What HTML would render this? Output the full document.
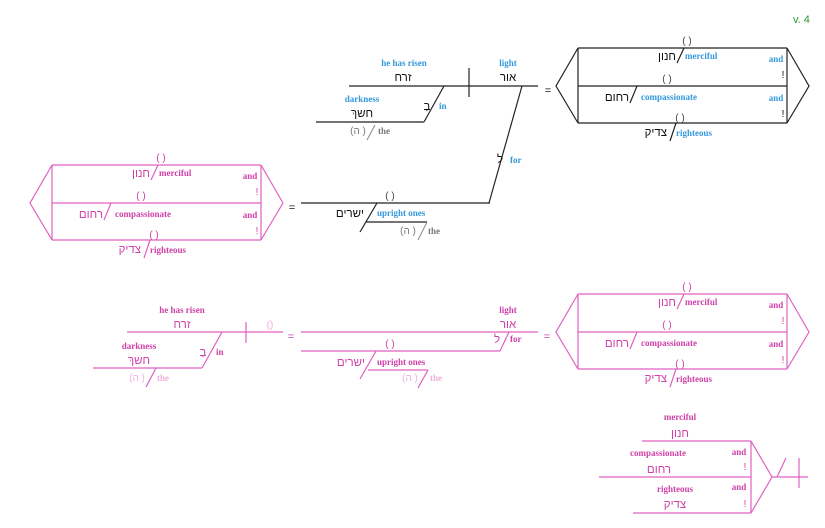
<!DOCTYPE html>
<html><head><meta charset="utf-8"><style>
html,body{margin:0;padding:0;background:#fff;}
svg{display:block;}
.l{font-family:"Liberation Serif",serif;font-weight:bold;font-size:9px;}
.h{font-family:"Liberation Sans","DejaVu Sans",sans-serif;font-size:11.5px;}
.s{font-family:"Liberation Sans","DejaVu Sans",sans-serif;font-size:11px;}
.p{font-family:"Liberation Sans","DejaVu Sans",sans-serif;font-size:10px;}
</style></head><body>
<svg width="825" height="528" viewBox="0 0 825 528" xmlns="http://www.w3.org/2000/svg">
<text x="793" y="23" class="s" fill="#2e9a2e">v. 4</text>

<!-- ===== Top black diagram ===== -->
<g stroke="#222" stroke-width="1.2" fill="none">
  <line x1="349" y1="86" x2="538" y2="86"/>
  <line x1="469" y1="68" x2="469" y2="97"/>
  <line x1="444" y1="86" x2="424" y2="122"/>
  <line x1="316" y1="122" x2="424" y2="122"/>
  <line x1="522" y1="86" x2="489" y2="203"/>
  <line x1="301" y1="203" x2="490" y2="203"/>
  <line x1="377" y1="203" x2="360" y2="232"/>
  <line x1="366" y1="222" x2="427" y2="222"/>
</g>
<g stroke="#888" stroke-width="1" fill="none">
  <line x1="375" y1="125" x2="367" y2="140"/>
  <line x1="427" y1="222" x2="418" y2="240"/>
</g>
<text x="404" y="66" class="l" fill="#3399dd" text-anchor="middle">he has risen</text>
<text x="403" y="81" class="h" fill="#111" text-anchor="middle">זרח</text>
<text x="508" y="66" class="l" fill="#3399dd" text-anchor="middle">light</text>
<text x="508" y="81" class="h" fill="#111" text-anchor="middle">אור</text>
<text x="362" y="102" class="l" fill="#3399dd" text-anchor="middle">darkness</text>
<text x="362" y="117" class="h" fill="#111" text-anchor="middle">חשךְ</text>
<text x="427" y="110" class="h" fill="#111" text-anchor="middle">בַ</text>
<text x="439" y="109" class="l" fill="#3399dd">in</text>
<text x="358" y="134" class="p" fill="#777" text-anchor="middle">(ה )</text>
<text x="378" y="134" class="l" fill="#777">the</text>
<text x="548" y="94" class="s" fill="#111" text-anchor="middle">=</text>
<text x="500" y="163" class="h" fill="#111" text-anchor="middle">ל</text>
<text x="510" y="163" class="l" fill="#3399dd">for</text>
<text x="390" y="199" class="p" fill="#444" text-anchor="middle">( )</text>
<text x="364" y="217" class="h" fill="#111" text-anchor="end">ישרים</text>
<text x="377" y="216" class="l" fill="#3399dd">upright ones</text>
<text x="408" y="234" class="p" fill="#777" text-anchor="middle">(ה )</text>
<text x="428" y="234" class="l" fill="#777">the</text>

<!-- black hexagon top-right -->
<g>
  <g stroke="#222" stroke-width="1.2" fill="none">
    <polyline points="578,48 556,86 578,123"/>
    <polyline points="787,48 809,86 787,123"/>
    <line x1="578" y1="48" x2="787" y2="48"/>
    <line x1="578" y1="86" x2="787" y2="86"/>
    <line x1="578" y1="123" x2="787" y2="123"/>
    <line x1="578" y1="48" x2="578" y2="123"/>
    <line x1="787" y1="48" x2="787" y2="123"/>
    <line x1="684" y1="48" x2="677" y2="63"/>
    <line x1="637" y1="86" x2="630" y2="103"/>
    <line x1="676" y1="123" x2="670" y2="141"/>
  </g>
  <text x="687" y="44" class="p" fill="#444" text-anchor="middle">( )</text>
  <text x="676" y="60" class="h" fill="#111" text-anchor="end">חנון</text>
  <text x="685" y="59" class="l" fill="#3399dd">merciful</text>
  <text x="776" y="62" class="l" fill="#3399dd" text-anchor="middle">and</text>
  <text x="783" y="78" class="p" fill="#111" text-anchor="middle">!</text>
  <text x="667" y="82" class="p" fill="#444" text-anchor="middle">( )</text>
  <text x="629" y="101" class="h" fill="#111" text-anchor="end">רחום</text>
  <text x="641" y="100" class="l" fill="#3399dd">compassionate</text>
  <text x="776" y="101" class="l" fill="#3399dd" text-anchor="middle">and</text>
  <text x="783" y="117" class="p" fill="#111" text-anchor="middle">!</text>
  <text x="680" y="121" class="p" fill="#444" text-anchor="middle">( )</text>
  <text x="667" y="136" class="h" fill="#111" text-anchor="end">צדיק</text>
  <text x="676" y="136" class="l" fill="#3399dd">righteous</text>
</g>

<!-- pink hexagon left middle -->
<g transform="translate(-526,117)">
  <g stroke="#e060c0" stroke-width="1.2" fill="none">
    <polyline points="578,48 556,86 578,123"/>
    <polyline points="787,48 809,86 787,123"/>
    <line x1="578" y1="48" x2="787" y2="48"/>
    <line x1="578" y1="86" x2="787" y2="86"/>
    <line x1="578" y1="123" x2="787" y2="123"/>
    <line x1="578" y1="48" x2="578" y2="123"/>
    <line x1="787" y1="48" x2="787" y2="123"/>
    <line x1="684" y1="48" x2="677" y2="63"/>
    <line x1="637" y1="86" x2="630" y2="103"/>
    <line x1="676" y1="123" x2="670" y2="141"/>
  </g>
  <text x="687" y="44" class="p" fill="#d040a8" text-anchor="middle">( )</text>
  <text x="676" y="60" class="h" fill="#d040a8" text-anchor="end">חנון</text>
  <text x="685" y="59" class="l" fill="#d040a8">merciful</text>
  <text x="776" y="62" class="l" fill="#d040a8" text-anchor="middle">and</text>
  <text x="783" y="78" class="p" fill="#d040a8" text-anchor="middle">!</text>
  <text x="667" y="82" class="p" fill="#d040a8" text-anchor="middle">( )</text>
  <text x="629" y="101" class="h" fill="#d040a8" text-anchor="end">רחום</text>
  <text x="641" y="100" class="l" fill="#d040a8">compassionate</text>
  <text x="776" y="101" class="l" fill="#d040a8" text-anchor="middle">and</text>
  <text x="783" y="117" class="p" fill="#d040a8" text-anchor="middle">!</text>
  <text x="680" y="121" class="p" fill="#d040a8" text-anchor="middle">( )</text>
  <text x="667" y="136" class="h" fill="#d040a8" text-anchor="end">צדיק</text>
  <text x="676" y="136" class="l" fill="#d040a8">righteous</text>
</g>
<text x="292" y="211" class="s" fill="#111" text-anchor="middle">=</text>

<!-- pink hexagon lower right -->
<g transform="translate(0,246)">
  <g stroke="#e060c0" stroke-width="1.2" fill="none">
    <polyline points="578,48 556,86 578,123"/>
    <polyline points="787,48 809,86 787,123"/>
    <line x1="578" y1="48" x2="787" y2="48"/>
    <line x1="578" y1="86" x2="787" y2="86"/>
    <line x1="578" y1="123" x2="787" y2="123"/>
    <line x1="578" y1="48" x2="578" y2="123"/>
    <line x1="787" y1="48" x2="787" y2="123"/>
    <line x1="684" y1="48" x2="677" y2="63"/>
    <line x1="637" y1="86" x2="630" y2="103"/>
    <line x1="676" y1="123" x2="670" y2="141"/>
  </g>
  <text x="687" y="44" class="p" fill="#d040a8" text-anchor="middle">( )</text>
  <text x="676" y="60" class="h" fill="#d040a8" text-anchor="end">חנון</text>
  <text x="685" y="59" class="l" fill="#d040a8">merciful</text>
  <text x="776" y="62" class="l" fill="#d040a8" text-anchor="middle">and</text>
  <text x="783" y="78" class="p" fill="#d040a8" text-anchor="middle">!</text>
  <text x="667" y="82" class="p" fill="#d040a8" text-anchor="middle">( )</text>
  <text x="629" y="101" class="h" fill="#d040a8" text-anchor="end">רחום</text>
  <text x="641" y="100" class="l" fill="#d040a8">compassionate</text>
  <text x="776" y="101" class="l" fill="#d040a8" text-anchor="middle">and</text>
  <text x="783" y="117" class="p" fill="#d040a8" text-anchor="middle">!</text>
  <text x="680" y="121" class="p" fill="#d040a8" text-anchor="middle">( )</text>
  <text x="667" y="136" class="h" fill="#d040a8" text-anchor="end">צדיק</text>
  <text x="676" y="136" class="l" fill="#d040a8">righteous</text>
</g>

<!-- ===== Lower pink diagram ===== -->
<g stroke="#e060c0" stroke-width="1.2" fill="none">
  <line x1="127" y1="332" x2="283" y2="332"/>
  <line x1="246" y1="322" x2="246" y2="343"/>
  <line x1="222" y1="332" x2="202" y2="368"/>
  <line x1="93" y1="368" x2="202" y2="368"/>
  <line x1="301" y1="332" x2="538" y2="332"/>
  <line x1="301" y1="351" x2="500" y2="351"/>
  <line x1="509" y1="332" x2="500" y2="351"/>
  <line x1="376" y1="351" x2="360" y2="379"/>
  <line x1="368" y1="370" x2="428" y2="370"/>
  <line x1="156" y1="368" x2="146" y2="387"/>
  <line x1="428" y1="370" x2="418" y2="388"/>
</g>
<text x="182" y="313" class="l" fill="#d040a8" text-anchor="middle">he has risen</text>
<text x="182" y="328" class="h" fill="#d040a8" text-anchor="middle">זרח</text>
<text x="270" y="328" class="p" fill="#f0b0dc" text-anchor="middle">()</text>
<text x="139" y="349" class="l" fill="#d040a8" text-anchor="middle">darkness</text>
<text x="139" y="364" class="h" fill="#d040a8" text-anchor="middle">חשךְ</text>
<text x="203" y="356" class="h" fill="#d040a8" text-anchor="middle">בַ</text>
<text x="216" y="355" class="l" fill="#d040a8">in</text>
<text x="137" y="381" class="p" fill="#f0b0dc" text-anchor="middle">(ה )</text>
<text x="157" y="381" class="l" fill="#f0b0dc">the</text>
<text x="291" y="340" class="s" fill="#d040a8" text-anchor="middle">=</text>
<text x="508" y="313" class="l" fill="#d040a8" text-anchor="middle">light</text>
<text x="508" y="328" class="h" fill="#d040a8" text-anchor="middle">אור</text>
<text x="497" y="343" class="h" fill="#d040a8" text-anchor="middle">ל</text>
<text x="510" y="342" class="l" fill="#d040a8">for</text>
<text x="390" y="347" class="p" fill="#d040a8" text-anchor="middle">( )</text>
<text x="365" y="366" class="h" fill="#d040a8" text-anchor="end">ישרים</text>
<text x="377" y="365" class="l" fill="#d040a8">upright ones</text>
<text x="410" y="381" class="p" fill="#f0b0dc" text-anchor="middle">(ה )</text>
<text x="430" y="381" class="l" fill="#f0b0dc">the</text>
<text x="547" y="340" class="s" fill="#d040a8" text-anchor="middle">=</text>

<!-- ===== Bottom right pink ===== -->
<g stroke="#e060c0" stroke-width="1.2" fill="none">
  <line x1="642" y1="441" x2="751" y2="441"/>
  <line x1="599" y1="477" x2="751" y2="477"/>
  <line x1="633" y1="513" x2="751" y2="513"/>
  <line x1="751" y1="441" x2="751" y2="513"/>
  <polyline points="751,441 772,477 751,513"/>
  <line x1="772" y1="477" x2="808" y2="477"/>
  <line x1="777" y1="477" x2="786" y2="458"/>
  <line x1="799" y1="458" x2="799" y2="488"/>
</g>
<text x="680" y="420" class="l" fill="#d040a8" text-anchor="middle">merciful</text>
<text x="680" y="437" class="h" fill="#d040a8" text-anchor="middle">חנון</text>
<text x="658" y="456" class="l" fill="#d040a8" text-anchor="middle">compassionate</text>
<text x="659" y="473" class="h" fill="#d040a8" text-anchor="middle">רחום</text>
<text x="675" y="492" class="l" fill="#d040a8" text-anchor="middle">righteous</text>
<text x="675" y="508" class="h" fill="#d040a8" text-anchor="middle">צדיק</text>
<text x="739" y="455" class="l" fill="#d040a8" text-anchor="middle">and</text>
<text x="745" y="470" class="p" fill="#d040a8" text-anchor="middle">!</text>
<text x="739" y="490" class="l" fill="#d040a8" text-anchor="middle">and</text>
<text x="745" y="507" class="p" fill="#d040a8" text-anchor="middle">!</text>
</svg>
</body></html>
